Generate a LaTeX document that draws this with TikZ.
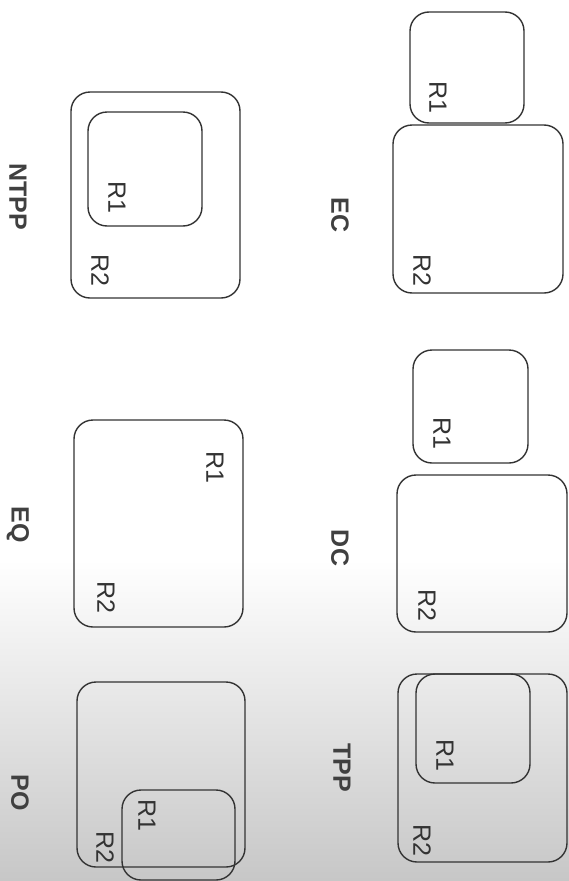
\documentclass[tikz,border=0pt]{standalone}
\usepackage{fontspec}
\setmainfont{Liberation Sans}
\usetikzlibrary{calc}

\newcommand{\lblfont}{\fontsize{25pt}{28pt}\selectfont}
\newcommand{\relfont}{\fontsize{25pt}{28pt}\selectfont\bfseries}

\tikzset{
  region/.style={draw=black!80,line width=1.4pt,rounded corners=19pt},
  rlab/.style={text=black!80,rotate=-90,font={\lblfont}},
  relname/.style={text=black!75,rotate=-90,font={\relfont}}
}

\begin{document}
\begin{tikzpicture}[x=1pt,y=-1pt]
\useasboundingbox (0,0) rectangle (569,881);
\fill[white] (0,0) rectangle (569,881);
\shade[top color=white,bottom color=black!22,draw=none] (0,560) rectangle (569,881);
% EC
\coordinate (ecA) at (410,12); \coordinate (ecB) at (524,123); \coordinate (ecC) at (393,125); \coordinate (ecD) at (563,293);
\draw[region] (ecA) rectangle (ecB);
\draw[region] (ecC) rectangle (ecD);
\node[rlab] (ecr1) at (438,97) {R1};
\node[rlab] (ecr2) at (422,270) {R2};
\node[relname] (ec) at (340,215) {EC};
% DC
\coordinate (dcA) at (413,350); \coordinate (dcB) at (528,463); \coordinate (dcC) at (397,475); \coordinate (dcD) at (567,632);
\draw[region] (dcA) rectangle (dcB);
\draw[region] (dcC) rectangle (dcD);
\node[rlab] (dcr1) at (442,433) {R1};
\node[rlab] (dcr2) at (427,605) {R2};
\node[relname] (dc) at (340,548) {DC};
% TPP
\coordinate (tpA) at (416,674); \coordinate (tpB) at (530,783); \coordinate (tpC) at (398,674); \coordinate (tpD) at (567,862);
\draw[region] (tpA) rectangle (tpB);
\draw[region] (tpC) rectangle (tpD);
\node[rlab] (tpr1) at (445,755) {R1};
\node[rlab] (tpr2) at (422,840) {R2};
\node[relname] (tpp) at (342,768) {TPP};
% NTPP
\coordinate (ntA) at (88,112); \coordinate (ntB) at (202,226); \coordinate (ntC) at (71,92); \coordinate (ntD) at (240,298);
\draw[region] (ntA) rectangle (ntB);
\draw[region] (ntC) rectangle (ntD);
\node[rlab] (ntr1) at (117,197) {R1};
\node[rlab] (ntr2) at (100,270) {R2};
\node[relname] (ntpp) at (18,197) {NTPP};
% EQ
\coordinate (eqA) at (74,420); \coordinate (eqB) at (243,627);
\draw[region] (eqA) rectangle (eqB);
\node[rlab] (eqr1) at (215,467) {R1};
\node[rlab] (eqr2) at (106,597) {R2};
\node[relname] (eq) at (18,525) {EQ};
% PO
\coordinate (poA) at (122,790); \coordinate (poB) at (235,880); \coordinate (poC) at (77,682); \coordinate (poD) at (245,867);
\draw[region] (poA) rectangle (poB);
\draw[region] (poC) rectangle (poD);
\node[rlab] (por1) at (147,815) {R1};
\node[rlab] (por2) at (105,847) {R2};
\node[relname] (po) at (20,793) {PO};
\end{tikzpicture}
\end{document}
